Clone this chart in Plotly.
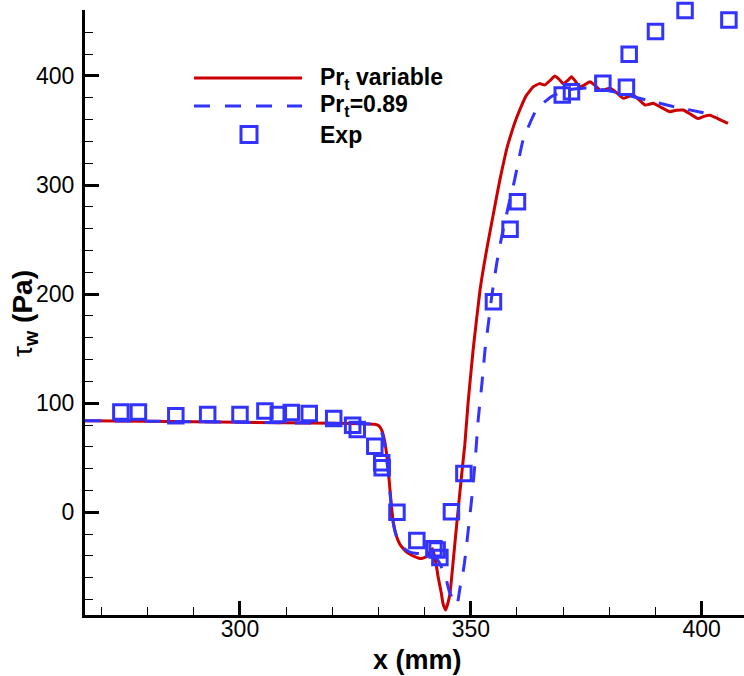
import plotly.graph_objects as go

# ---- data ----
x_var = [266.4, 280.0, 300.0, 320.0, 328.0, 329.2, 330.0, 330.7, 331.4, 331.8, 332.1, 332.5,
         332.8, 333.2, 333.9, 334.6, 335.3, 336.1, 337.5, 339.3, 340.5, 341.2, 341.7, 342.1,
         342.5, 342.9, 343.6, 344.0, 344.55, 345.0, 345.5, 346.2, 346.9, 347.6, 348.2, 348.7,
         349.4, 350.5, 352.0, 353.4, 354.9, 356.3, 357.7, 358.3, 359.5, 360.6, 362.0, 363.5,
         364.9, 366.0, 367.2, 368.2, 369.1, 370.0, 371.0, 371.8, 372.7, 373.6, 374.7, 375.8,
         377.0, 378.0, 379.0, 380.1, 381.5, 383.0, 384.0, 385.1, 386.5, 387.7, 388.6, 389.5,
         391.3, 393.1, 394.5, 396.0, 397.6, 399.2, 400.5, 401.8, 403.7, 405.7]
y_var = [84.0, 83.5, 82.5, 81.5, 81.0, 80.7, 79.5, 75.4, 64.0, 52.0, 40.0, 20.0,
         6.0, -9.0, -22.0, -29.0, -33.0, -36.5, -40.0, -42.5, -40.5, -36.0, -33.5, -40.0,
         -48.0, -59.0, -74.0, -84.0, -89.6, -84.0, -74.0, -44.0, -13.0, 17.0, 42.0, 62.0,
         100.0, 149.0, 204.0, 240.0, 274.0, 305.0, 332.0, 341.0, 357.0, 369.0, 382.0, 390.0,
         393.0, 391.7, 396.0, 400.0, 397.0, 393.0, 396.0, 399.4, 395.0, 390.0, 392.0, 394.8,
         391.0, 387.0, 387.5, 388.7, 385.0, 379.5, 381.0, 382.6, 378.0, 373.4, 374.0, 375.0,
         371.0, 367.3, 368.5, 368.8, 365.0, 361.0, 363.0, 364.0, 360.5, 356.6]

x_089 = [266.4, 280.0, 300.0, 320.0, 328.0, 329.2, 330.0, 330.7, 331.4, 332.1, 332.7, 333.2,
         333.9, 334.6, 335.5, 336.8, 338.0, 340.0, 342.0, 343.0, 343.6, 344.4, 345.3, 346.0,
         346.6, 347.0, 347.3, 347.7, 348.2, 348.6, 349.0, 349.4, 349.8, 350.3, 350.9, 351.6,
         352.4, 353.1, 353.8, 354.5, 355.6, 356.7, 358.1, 359.5, 361.3, 364.2, 367.4, 370.7,
         375.0, 379.4, 383.7, 388.0, 393.8, 399.6, 403.5]
y_089 = [84.0, 83.5, 82.5, 81.5, 81.0, 80.0, 78.0, 73.0, 60.0, 37.0, 8.0, -10.0,
         -22.0, -28.0, -33.0, -36.5, -37.5, -38.5, -40.0, -45.0, -50.0, -57.0, -72.0, -79.0,
         -83.0, -85.0, -79.0, -68.0, -58.0, -47.0, -33.0, -18.0, -3.0, 17.0, 45.0, 85.0,
         118.0, 150.0, 173.0, 197.0, 228.0, 253.0, 280.0, 305.0, 341.0, 369.0, 381.0, 387.0,
         389.0, 387.0, 382.6, 378.0, 372.0, 367.0, 364.0]

x_exp = [274.2, 278.0, 286.1, 293.0, 300.0, 305.4, 308.3, 311.1, 315.0, 320.3, 324.4, 325.4,
         329.2, 330.7, 330.8, 334.0, 338.3, 342.0, 342.7, 343.3, 345.8, 348.5, 354.9, 358.5,
         360.1, 369.8, 371.8, 378.6, 383.7, 384.3, 390.0, 396.4, 405.9]
y_exp = [92.0, 92.0, 88.4, 89.6, 89.6, 92.9, 89.6, 91.4, 90.5, 86.0, 79.8, 75.8,
         60.6, 45.3, 40.7, 0.0, -26.0, -33.5, -34.6, -41.5, 0.5, 35.5, 193.0, 259.5,
         284.7, 382.6, 385.6, 393.3, 389.6, 419.9, 440.8, 460.0, 451.4]

legend_names = ["<b>Pr<sub>t</sub> variable</b>", "<b>Pr<sub>t</sub>=0.89</b>", "<b>Exp</b>"]

RED = "#cc0000"
BLUE = "#3333ff"
FONT = "Liberation Sans, Arial, sans-serif"

fig = go.Figure()
fig.add_trace(go.Scatter(x=x_var, y=y_var, mode="lines", showlegend=False,
                         line=dict(color=RED, width=3, shape="spline", smoothing=0.4)))
fig.add_trace(go.Scatter(x=x_089, y=y_089, mode="lines", showlegend=False,
                         line=dict(color=BLUE, width=3, dash="16px,14px", shape="spline", smoothing=0.4)))
fig.add_trace(go.Scatter(x=x_exp, y=y_exp, mode="markers", showlegend=False, cliponaxis=False,
                         marker=dict(symbol="square-open", size=14.5, color=BLUE,
                                     line=dict(color=BLUE, width=3))))

# plot area in pixels: left 85, right 744, top 10, bottom 615
L, R, T, B = 85, 744, 10, 615
def px(xp):
    return (xp - L) / (R - L)
def py(yp):
    return (B - yp) / (B - T)

shapes = [
    dict(type="line", xref="paper", yref="paper", x0=px(194), x1=px(302), y0=py(78), y1=py(78),
         line=dict(color=RED, width=3)),
    dict(type="line", xref="paper", yref="paper", x0=px(194), x1=px(302), y0=py(106), y1=py(106),
         line=dict(color=BLUE, width=3, dash="16px,15px")),
    dict(type="rect", xref="paper", yref="paper", xsizemode="pixel", ysizemode="pixel",
         xanchor=px(249), yanchor=py(134.5), x0=-8, x1=8, y0=-8, y1=8,
         line=dict(color=BLUE, width=3), fillcolor="rgba(0,0,0,0)"),
]

annotations = []
for name, ypix in zip(legend_names, [78, 106, 134.5]):
    annotations.append(dict(text=name, xref="paper", yref="paper", x=px(318), y=py(ypix),
                            xanchor="left", yanchor="middle", showarrow=False,
                            font=dict(family=FONT, size=23, color="black")))
annotations.append(dict(text="<b>x (mm)</b>", xref="paper", yref="paper", x=px(417.5), y=py(660),
                        xanchor="center", yanchor="middle", showarrow=False,
                        font=dict(family=FONT, size=27, color="black")))
annotations.append(dict(text="τ<sub><b>w</b></sub> <b>(Pa)</b>", xref="paper", yref="paper",
                        x=px(25), y=py(314), xanchor="center", yanchor="middle", textangle=-90,
                        showarrow=False, font=dict(family=FONT, size=28, color="black")))

axis_common = dict(showline=True, linewidth=3, linecolor="black", showgrid=False, zeroline=False,
                   ticks="inside", ticklen=14, tickwidth=3, tickcolor="black",
                   tickfont=dict(family=FONT, size=23, color="black"))

fig.update_layout(
    width=744, height=676, margin=dict(l=L, r=744 - R, t=T, b=676 - B),
    paper_bgcolor="white", plot_bgcolor="white", showlegend=False,
    shapes=shapes, annotations=annotations,
    xaxis=dict(range=[266.43, 409.17], tick0=300, dtick=50, ticklabelstandoff=-9,
               minor=dict(dtick=10, tick0=300, ticks="inside", ticklen=8, tickwidth=1.2, tickcolor="black"),
               **axis_common),
    yaxis=dict(range=[-94.2, 460.5], tick0=0, dtick=100, ticklabelstandoff=3,
               minor=dict(dtick=20, tick0=0, ticks="inside", ticklen=8, tickwidth=1.2, tickcolor="black"),
               **axis_common),
)

fig.write_html("out.html", config={"displayModeBar": False},
               post_script="document.body.style.margin='0';document.body.style.overflow='hidden';")
